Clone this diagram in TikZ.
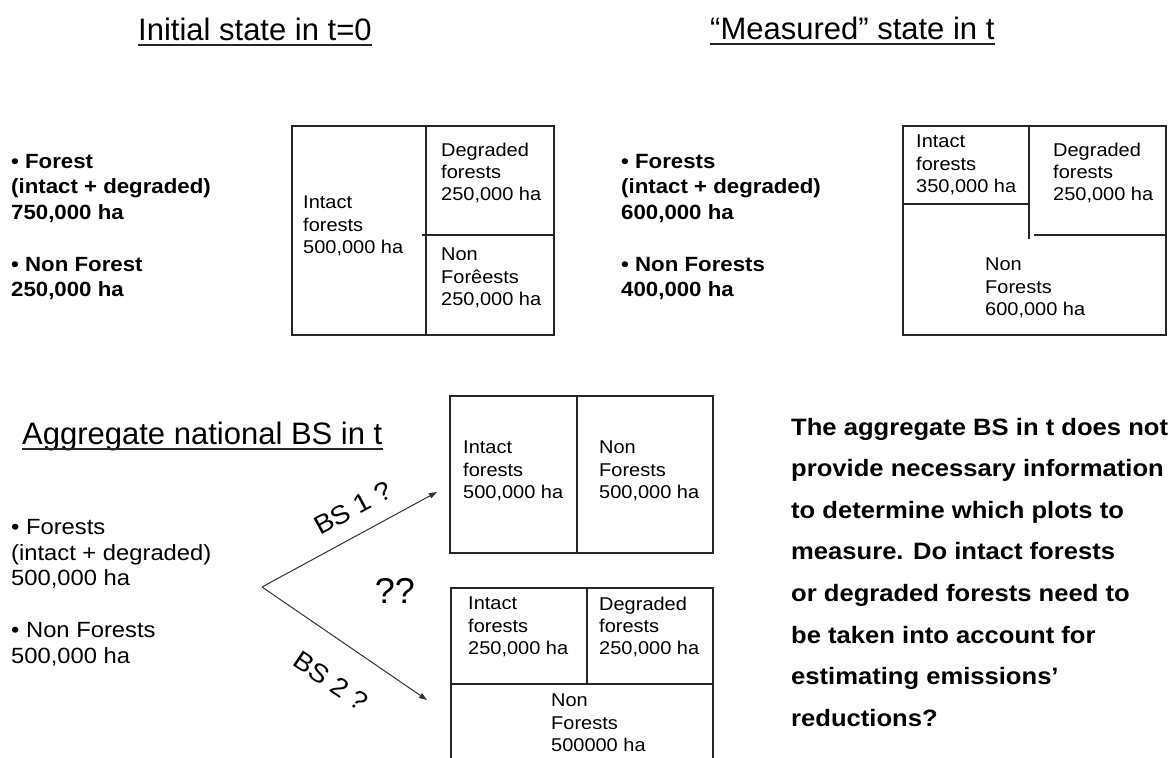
\documentclass[tikz,border=0pt]{standalone}
\usepackage{fontspec}
\setmainfont{Liberation Sans}
\newfontfamily\wfont[FakeStretch=1.08]{Liberation Sans}
\usetikzlibrary{arrows.meta}
\begin{document}
\begin{tikzpicture}[x=1pt,y=-1pt,
  titletext/.style={inner sep=0pt, anchor=base west, font=\fontsize{31}{36}\selectfont},
  uline/.style={line width=1.2pt, draw=black!85},
  boxline/.style={line width=1.2pt, draw=black!85},
  boxtext/.style={inner sep=0pt, anchor=west, align=left, font=\wfont\fontsize{18.5}{22.3}\selectfont},
  boldblock/.style={inner sep=0pt, anchor=west, align=left, font=\wfont\bfseries\fontsize{20.6}{25.5}\selectfont},
  plainblock/.style={inner sep=0pt, anchor=west, align=left, font=\wfont\fontsize{22}{25.8}\selectfont},
  paraline/.style={inner sep=0pt, anchor=base west, font=\wfont\bfseries\fontsize{23.7}{28}\selectfont},
  arrowline/.style={line width=1pt, draw=black!80, -{Triangle[length=8pt,width=5.5pt]}},
  bslabel/.style={inner sep=0pt, font=\wfont\fontsize{26}{30}\selectfont},
]
\useasboundingbox (0,0) rectangle (1176,758);
\fill[white] (0,0) rectangle (1176,758);

% titles
\node[titletext] (t1) at (138,40) {Initial state in t=0};
\draw[uline] ([yshift=-5pt]t1.base west) -- ([yshift=-5pt]t1.base east);
\node[titletext] (t2) at (710,39) {“Measured” state in t};
\draw[uline] ([yshift=-5pt]t2.base west) -- ([yshift=-5pt]t2.base east);
\node[titletext] (t3) at (22,444) {Aggregate national BS in t};
\draw[uline] ([yshift=-5pt]t3.base west) -- ([yshift=-5pt]t3.base east);

% left text blocks
\node[boldblock] (f1) at (11,188.5) {• Forest\\(intact + degraded)\\750,000 ha};
\node[boldblock] (n1) at (11,278.5) {• Non Forest\\250,000 ha};
\node[boldblock] (f2) at (621,188.5) {• Forests\\(intact + degraded)\\600,000 ha};
\node[boldblock] (n2) at (621,278.5) {• Non Forests\\400,000 ha};
\node[plainblock] (f3) at (11,554) {• Forests\\(intact + degraded)\\500,000 ha};
\node[plainblock] (n3) at (11,644.5) {• Non Forests\\500,000 ha};

% box 1: initial state
\draw[boxline] (292,126) rectangle (554,335);
\draw[boxline] (426,126) -- (426,335);
\draw[boxline] (422,235) -- (554,235);
\node[boxtext] (b1i) at (303,226) {Intact\\forests\\500,000 ha};
\node[boxtext] (b1d) at (441,173) {Degraded\\forests\\250,000 ha};
\node[boxtext] (b1n) at (441,278) {Non\\Forêests\\250,000 ha};

% box 2: measured state
\draw[boxline] (903,126) rectangle (1166,335);
\draw[boxline] (1029,126) -- (1029,239);
\draw[boxline] (903,204) -- (1029,204);
\draw[boxline] (1034,235) -- (1166,235);
\node[boxtext] (b2i) at (916,165) {Intact\\forests\\350,000 ha};
\node[boxtext] (b2d) at (1053,173) {Degraded\\forests\\250,000 ha};
\node[boxtext] (b2n) at (985,288) {Non\\Forests\\600,000 ha};

% box 3: BS 1
\draw[boxline] (450,396) rectangle (713,553);
\draw[boxline] (577,396) -- (577,553);
\node[boxtext] (b3i) at (463,471) {Intact\\forests\\500,000 ha};
\node[boxtext] (b3n) at (599,471) {Non\\Forests\\500,000 ha};

% box 4: BS 2
\draw[boxline] (451,758) -- (451,588) -- (713,588) -- (713,758);
\draw[boxline] (451,684) -- (713,684);
\draw[boxline] (587,588) -- (587,684);
\node[boxtext] (b4i) at (468,627) {Intact\\forests\\250,000 ha};
\node[boxtext] (b4d) at (599,627) {Degraded\\forests\\250,000 ha};
\node[boxtext] (b4n) at (551,723) {Non\\Forests\\500000 ha};

% arrows
\coordinate (apex) at (262,587);
\coordinate (e1) at (437,492);
\coordinate (e2) at (427,700);
\draw[arrowline] (apex) -- (e1);
\draw[arrowline] (apex) -- (e2);
\node[bslabel, rotate=28.5] (bs1) at (353,508) {BS 1 ?};
\node[bslabel, rotate=-34] (bs2) at (331,681) {BS 2 ?};
\node[inner sep=0pt, font=\fontsize{36}{40}\selectfont] (qq) at (395,591) {??};

% paragraph
\node[paraline] (p1) at (791,435) {The aggregate BS in t does not};
\node[paraline] (p2) at (791,476.6) {provide necessary information};
\node[paraline] (p3) at (791,518.2) {to determine which plots to};
\node[paraline] (p4) at (791,559.8) {measure. Do intact forests};
\node[paraline] (p5) at (791,601.4) {or degraded forests need to};
\node[paraline] (p6) at (791,643) {be taken into account for};
\node[paraline] (p7) at (791,684.6) {estimating emissions’};
\node[paraline] (p8) at (791,726.2) {reductions?};
\end{tikzpicture}
\end{document}
